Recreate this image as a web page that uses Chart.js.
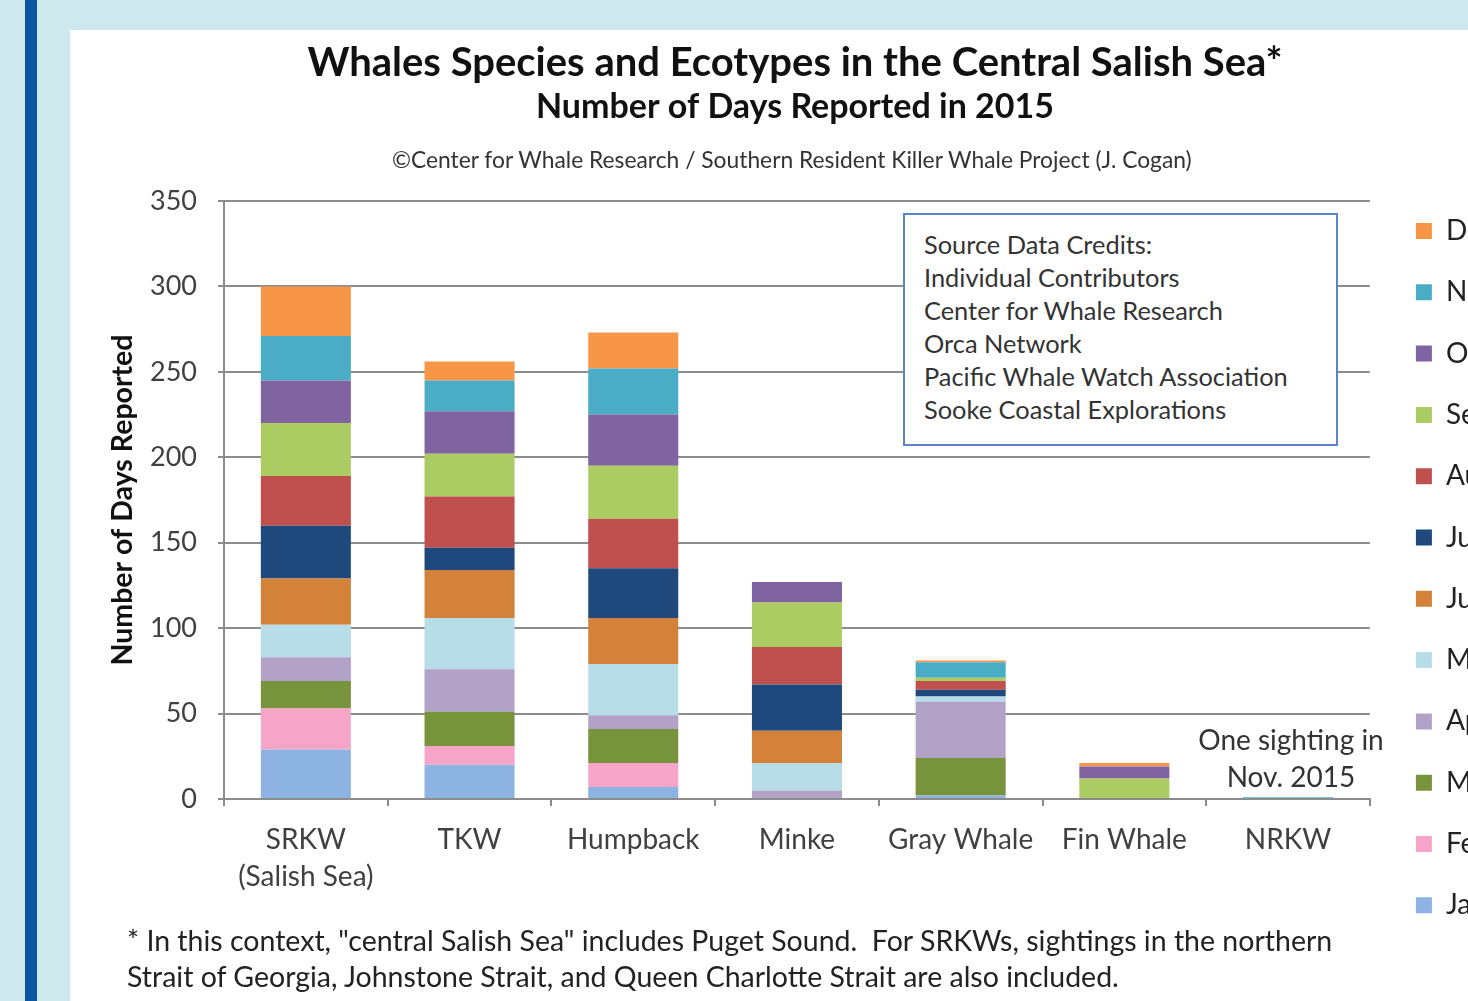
<!DOCTYPE html>
<html>
<head>
<meta charset="utf-8">
<script src="https://cdn.jsdelivr.net/npm/chart.js@4.4.1/dist/chart.umd.min.js"></script>
<style>
  html, body { margin: 0; padding: 0; width: 1468px; height: 1001px; overflow: hidden; background: #cde9ee; font-family: Lato, sans-serif; }
  #stripe { position: absolute; left: 25px; top: 0; width: 12px; height: 1001px; background: #0b56a3; }
  #panel { position: absolute; left: 70px; top: 30px; width: 1398px; height: 971px; background: #fff; overflow: hidden; }
  #chartCanvas { position: absolute; left: 0; top: 0; }
  .note { position: absolute; color: #333; white-space: nowrap; }
  #copy { left: 392px; top: 147px; font-size: 22.8px; line-height: 24px; }
  #credits { left: 903px; top: 213px; width: 412px; height: 216px; border: 2px solid #5d86c9; background: #fff;
             padding: 13px 0 0 19px; font-size: 25.4px; line-height: 33px; color: #333; }
  #oneSighting { left: 1191px; top: 721px; width: 200px; text-align: center; font-size: 28px; line-height: 37px; }
  #footnote { left: 127px; top: 922px; font-size: 28.5px; line-height: 36px; color: #222; }
</style>
</head>
<body>
<div id="stripe"></div>
<div id="panel">
  <canvas id="chartCanvas" width="1414" height="971"></canvas>
</div>
<div id="copy" class="note">©Center for Whale Research / Southern Resident Killer Whale Project (J. Cogan)</div>
<div id="credits" class="note">Source Data Credits:<br>Individual Contributors<br>Center for Whale Research<br>Orca Network<br>Pacific Whale Watch Association<br>Sooke Coastal Explorations</div>
<div id="oneSighting" class="note">One sighting in<br>Nov. 2015</div>
<div id="footnote" class="note">* In this context, "central Salish Sea" includes Puget Sound.&nbsp; For SRKWs, sightings in the northern<br>Strait of Georgia, Johnstone Strait, and Queen Charlotte Strait are also included.</div>

<script>
// categories (whale species / ecotypes)
const categories = [["SRKW", "(Salish Sea)"], "TKW", "Humpback", "Minke", "Gray Whale", "Fin Whale", "NRKW"];
const months = ["January", "February", "March", "April", "May", "June",
                "July", "August", "September", "October", "November", "December"];

// days reported per month, one value per category
const jan = [29, 20, 7, 0, 2, 0, 0];
const feb = [24, 11, 14, 0, 0, 0, 0];
const mar = [16, 20, 20, 0, 22, 0, 0];
const apr = [14, 25, 8, 5, 33, 0, 0];
const may = [19, 30, 30, 16, 3, 0, 0];
const jun = [27, 28, 27, 19, 0, 0, 0];
const jul = [31, 13, 29, 27, 4, 0, 0];
const aug = [29, 30, 29, 22, 5, 0, 0];
const sep = [31, 25, 31, 26, 2, 12, 0];
const oct = [25, 25, 30, 12, 0, 7, 0];
const nov = [26, 18, 27, 0, 9, 0, 1];
const dec = [29, 11, 21, 0, 1, 2, 0];

const monthValues = [jan, feb, mar, apr, may, jun, jul, aug, sep, oct, nov, dec];
const monthColors = ["#8db3e2", "#f6a5c9", "#77933c", "#b3a2c7", "#b7dde8", "#d4813a",
                     "#1f497d", "#c0504d", "#abcc62", "#8064a2", "#4bacc6", "#f79646"];

const yTicks = [0, 50, 100, 150, 200, 250, 300, 350];

const gridGray = "#8c8c8c";
Chart.defaults.font.family = "Lato, sans-serif";

const chart = new Chart(document.getElementById("chartCanvas"), {
    type: "bar",
    data: {
        labels: categories,
        datasets: months.map((m, i) => ({
            label: m,
            data: monthValues[i],
            backgroundColor: monthColors[i],
            borderWidth: 0,
            barPercentage: 0.55,
            categoryPercentage: 1
        }))
    },
    options: {
        responsive: false,
        animation: false,
        layout: { padding: { left: 35.9, right: 0, top: 0, bottom: 48.4 } },
        plugins: {
            title: {
                display: true,
                text: "Whales Species and Ecotypes in the Central Salish Sea*",
                color: "#111",
                font: { size: 40, weight: "bold" },
                padding: { top: 9, bottom: 0 }
            },
            subtitle: {
                display: true,
                text: "Number of Days Reported in 2015",
                color: "#111",
                font: { size: 34, weight: "bold" },
                padding: { top: 0, bottom: 73.2 }
            },
            legend: {
                position: "right",
                align: "end",
                reverse: true,
                maxWidth: 101.4,
                labels: {
                    boxWidth: 16,
                    boxHeight: 16,
                    padding: 33.3,
                    color: "#222",
                    font: { size: 28 }
                }
            },
            tooltip: { enabled: false }
        },
        scales: {
            x: {
                stacked: true,
                grid: { display: true, drawOnChartArea: false, offset: true, tickLength: 7, color: gridGray, lineWidth: 2 },
                border: { color: gridGray, width: 2 },
                ticks: { padding: 15.5, color: "#404040", font: { size: 28, lineHeight: 1.32 } },
                afterFit: (scale) => { scale.height = 153.6; }
            },
            y: {
                stacked: true,
                min: yTicks[0],
                max: yTicks[yTicks.length - 1],
                afterBuildTicks: (scale) => { scale.ticks = yTicks.map(v => ({ value: v })); },
                ticks: { padding: 21, color: "#404040", font: { size: 27 } },
                grid: { color: gridGray, lineWidth: 2, tickLength: 6 },
                border: { color: gridGray, width: 2 },
                title: {
                    display: true,
                    text: "Number of Days Reported",
                    color: "#111",
                    font: { size: 28.5, weight: "bold" },
                    padding: 0
                },
                afterFit: (scale) => { scale.width = 118.1; }
            },
            // empty right-hand spacer between plot and legend
            gap: {
                position: "right",
                display: true,
                grid: { display: false },
                border: { display: false },
                ticks: { display: false },
                afterFit: (scale) => { scale.width = 12.7; }
            }
        }
    }
});
</script>
</body>
</html>
